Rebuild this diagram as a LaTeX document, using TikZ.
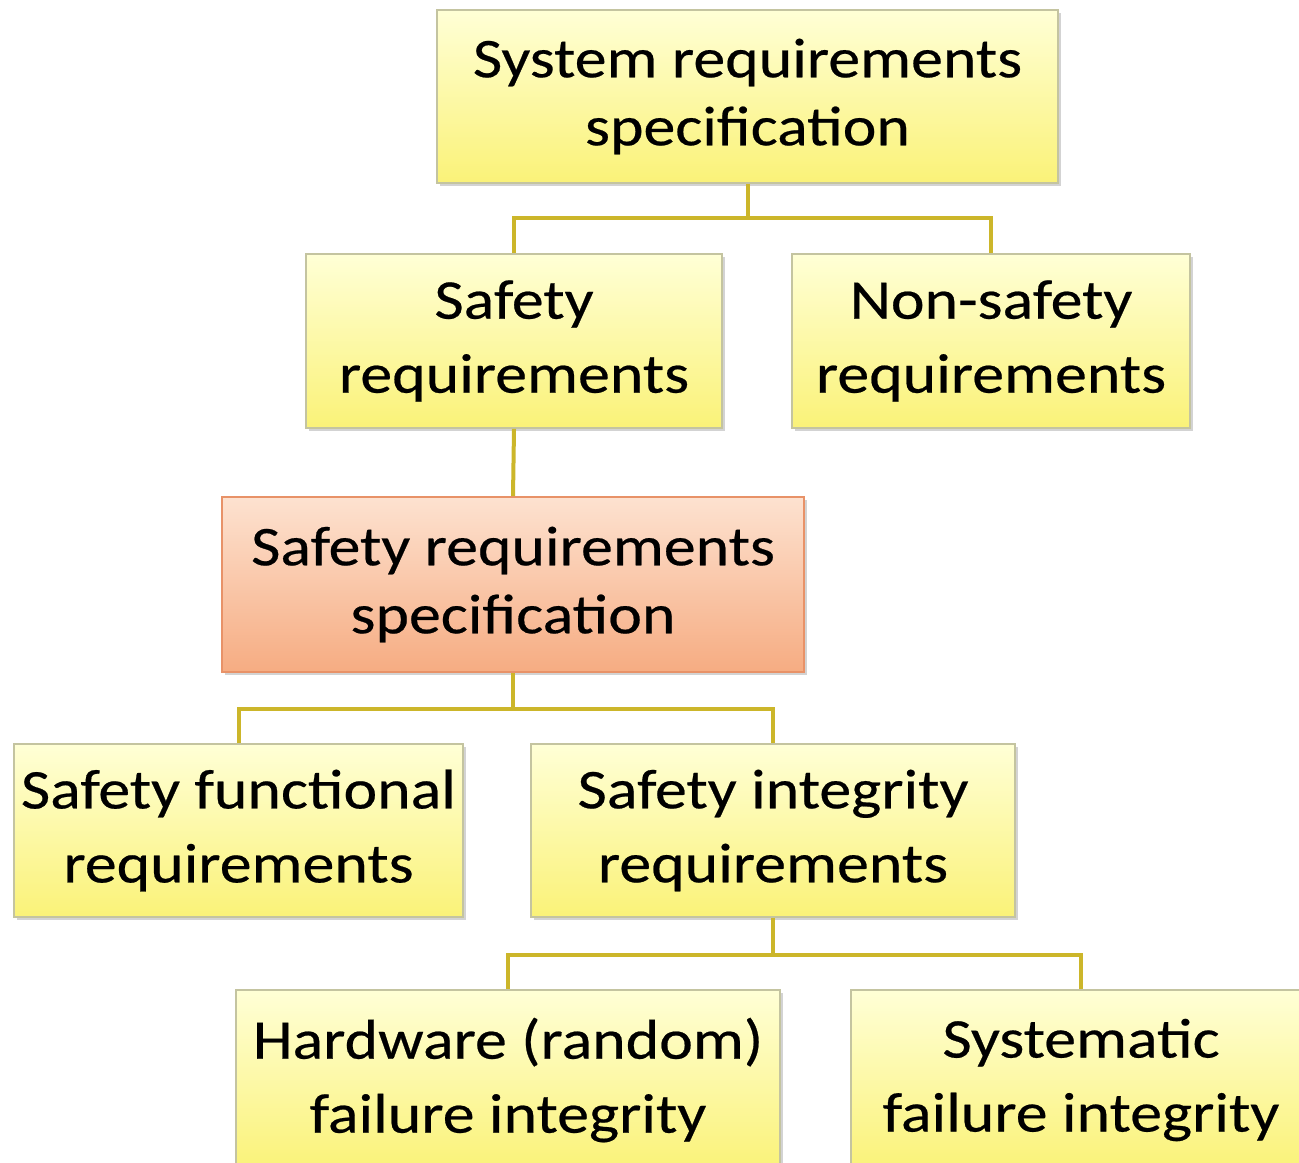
\documentclass[tikz,border=0pt]{standalone}
\usepackage{fontspec}
\setmainfont{Carlito}[FakeStretch=1.14,FakeBold=0.4]
\usetikzlibrary{shadows}
\definecolor{boxtop}{RGB}{255,255,214}
\definecolor{boxbot}{RGB}{250,242,120}
\definecolor{boxline}{RGB}{196,196,160}
\definecolor{spectop}{RGB}{253,226,208}
\definecolor{specbot}{RGB}{246,172,130}
\definecolor{specline}{RGB}{232,146,104}
\definecolor{link}{RGB}{204,182,42}

\begin{document}
\begin{tikzpicture}[x=0.5pt,y=-0.5pt,
  req/.style={draw=boxline,line width=0.8pt,top color=boxtop,bottom color=boxbot,
    align=center,inner sep=0pt,font=\fontsize{28}{37}\selectfont,
    drop shadow={shadow xshift=1.5pt,shadow yshift=-1.5pt,opacity=0.35}},
  tight/.style={font=\fontsize{28}{34}\selectfont},
  spec/.style={req,tight,draw=specline,top color=spectop,bottom color=specbot},
  link/.style={draw=link,line width=2pt}]
\useasboundingbox (0,0) rectangle (1299,1162);
\clip (0,0) rectangle (1299,1162);
\node[req,tight,minimum width=310.5pt,minimum height=86.5pt] (sys) at (747.5,96.5) {System requirements\\specification};
\node[req,minimum width=208pt,minimum height=87pt] (safe) at (514,341) {Safety\\requirements};
\node[req,minimum width=199pt,minimum height=87pt] (nonsafe) at (991,341) {Non-safety\\requirements};
\node[spec,minimum width=291pt,minimum height=87.5pt] (srs) at (513,584.5) {Safety requirements\\specification};
\node[req,minimum width=224.5pt,minimum height=86.5pt] (func) at (238.5,830.5) {Safety functional\\requirements};
\node[req,minimum width=242pt,minimum height=86.5pt] (integ) at (773,830.5) {Safety integrity\\requirements};
\node[req,minimum width=272pt,minimum height=90pt] (hw) at (508,1080) {Hardware (random)\\failure integrity};
\node[req,minimum width=230pt,minimum height=90pt] (sysf) at (1081,1080) {Systematic\\failure integrity};
\coordinate (j1) at (747.5,218);
\coordinate (j2) at (513,709);
\coordinate (j3) at (773,955);
\draw[link] (sys.south) -- (j1) -| (safe.north);
\draw[link] (j1) -| (nonsafe.north);
\draw[link] (safe.south) -- (srs.north);
\draw[link] (srs.south) -- (j2) -| (func.north);
\draw[link] (j2) -| (integ.north);
\draw[link] (integ.south) -- (j3) -| (hw.north);
\draw[link] (j3) -| (sysf.north);
\end{tikzpicture}
\end{document}
